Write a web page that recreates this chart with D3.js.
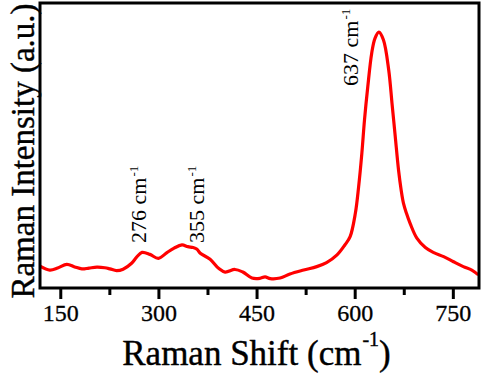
<!DOCTYPE html>
<html>
<head>
<meta charset="utf-8">
<script src="https://cdn.jsdelivr.net/npm/d3@7"></script>
<style>
  html, body { margin: 0; padding: 0; background: #fff; }
  svg text { font-family: "Liberation Serif", "Times New Roman", serif; }
</style>
</head>
<body>
<div id="chart"></div>
<script>
// Raman shift (cm-1) and intensity (a.u.)
const shift = [119, 134, 146, 160, 172, 183, 194, 206, 218, 226, 236, 246, 259, 267, 275, 287, 300, 313, 324, 336, 345, 353, 359, 364, 379, 392, 402, 417, 429, 443, 455, 463, 471, 486, 501, 522, 542, 557, 573, 585, 593, 601, 606, 611, 615, 620, 626, 631, 637, 644, 652, 657, 662, 667, 671, 674.5, 679, 685, 695, 708, 720, 736, 751, 766, 779, 789];
const intensity = [77, 63, 70, 83, 74, 67, 70, 73, 71, 67, 61, 66, 87, 109, 125, 118, 104, 124, 140, 151, 145, 142, 136, 122, 101, 69, 56, 65, 56, 35, 34, 39, 33, 35, 49, 63, 75, 89, 116, 151, 180, 262, 355, 474, 590, 706, 824, 876, 898, 870, 765, 649, 531, 414, 344, 298, 263, 225, 175, 142, 125, 110, 92, 75, 63, 46];

const xTicks = [150, 300, 450, 600, 750];
const xMinorTicks = [225, 375, 525, 675];
const peakLabels = [276, 355, 637];

const width = 484, height = 375;
const margin = { top: 3, right: 5, bottom: 87, left: 40 };
const innerWidth = width - margin.left - margin.right;
const innerHeight = height - margin.top - margin.bottom;
const serif = "'Liberation Serif', 'Times New Roman', serif";

const svg = d3.select("#chart")
    .append("svg")
    .attr("width", width)
    .attr("height", height)
    .attr("font-family", serif);

const g = svg.append("g")
    .attr("transform", `translate(${margin.left}, ${margin.top})`);

const xScale = d3.scaleLinear().domain([119, 790]).range([0, innerWidth]);
const yScale = d3.scaleLinear().domain([0, 1000]).range([innerHeight, 0]);

const data = shift.map((s, i) => ({ s, v: intensity[i] }));

// Minor ticks (no labels)
g.append("g")
    .attr("transform", `translate(0, ${innerHeight})`)
    .call(d3.axisBottom(xScale).tickValues(xMinorTicks).tickSize(7).tickFormat(""))
    .call(a => a.select(".domain").remove())
    .call(a => a.selectAll(".tick line").attr("stroke", "#000").attr("stroke-width", 3));

// Major ticks with labels
const xAxis = g.append("g")
    .attr("transform", `translate(0, ${innerHeight})`)
    .call(d3.axisBottom(xScale).tickValues(xTicks).tickSize(11).tickPadding(5));

xAxis.attr("font-family", serif).attr("font-size", 24);
xAxis.select(".domain").remove();
xAxis.selectAll(".tick line").attr("stroke", "#000").attr("stroke-width", 3);
xAxis.selectAll(".tick text")
    .attr("fill", "#000")
    .attr("stroke", "#000")
    .attr("stroke-width", 0.3)
    .style("font-size", "24px")
    .style("font-family", serif);

// Line
const line = d3.line()
    .x(d => xScale(d.s))
    .y(d => yScale(d.v))
    .curve(d3.curveCatmullRom.alpha(0.5));

g.append("path")
    .datum(data)
    .attr("fill", "none")
    .attr("stroke", "#ff0000")
    .attr("stroke-width", 3.2)
    .attr("stroke-linejoin", "round")
    .attr("d", line);

// Frame
g.append("rect")
    .attr("x", 0)
    .attr("y", 0)
    .attr("width", innerWidth)
    .attr("height", innerHeight)
    .attr("fill", "none")
    .attr("stroke", "#000")
    .attr("stroke-width", 3);

// Peak annotations (rotated): main text plus a separate superscript
const labelOffsets = { 276: [3, 243], 355: [10, 243], 637: [-21, 86] };
peakLabels.forEach(p => {
    const [dx, yPos] = labelOffsets[p];
    const grp = g.append("g")
        .attr("transform", `translate(${xScale(p) + dx}, ${yPos - margin.top}) rotate(-90)`);
    const main = grp.append("text")
        .style("font-size", "22px")
        .attr("fill", "#000")
        .text(`${p} cm`);
    const w = main.node().getComputedTextLength();
    grp.append("text")
        .attr("x", w + 1)
        .attr("y", -8)
        .style("font-size", "13px")
        .attr("fill", "#000")
        .text("-1");
});

// X axis title, built from pieces so the superscript can sit above
const xTitle = svg.append("g");
const xMain = xTitle.append("text")
    .attr("y", 365)
    .style("font-size", "35px")
    .attr("fill", "#000").attr("stroke", "#000").attr("stroke-width", 0.4)
    .text("Raman Shift (cm");
const xSup = xTitle.append("text")
    .attr("y", 346)
    .style("font-size", "20px")
    .attr("fill", "#000").attr("stroke", "#000").attr("stroke-width", 0.4)
    .text("-1");
const xClose = xTitle.append("text")
    .attr("y", 365)
    .style("font-size", "35px")
    .attr("fill", "#000").attr("stroke", "#000").attr("stroke-width", 0.4)
    .text(")");
const wMain = xMain.node().getComputedTextLength();
const wSup = xSup.node().getComputedTextLength();
const wClose = xClose.node().getComputedTextLength();
const x0 = margin.left + innerWidth / 2 - 3 - (wMain + wSup + 1 + wClose) / 2;
xMain.attr("x", x0);
xSup.attr("x", x0 + wMain + 1);
xClose.attr("x", x0 + wMain + wSup + 1);

// Y axis title
svg.append("text")
    .attr("transform", `translate(34, 151) rotate(-90)`)
    .attr("text-anchor", "middle")
    .style("font-size", "33px")
    .attr("fill", "#000")
    .attr("stroke", "#000")
    .attr("stroke-width", 0.4)
    .text("Raman Intensity (a.u.)");
</script>
</body>
</html>
